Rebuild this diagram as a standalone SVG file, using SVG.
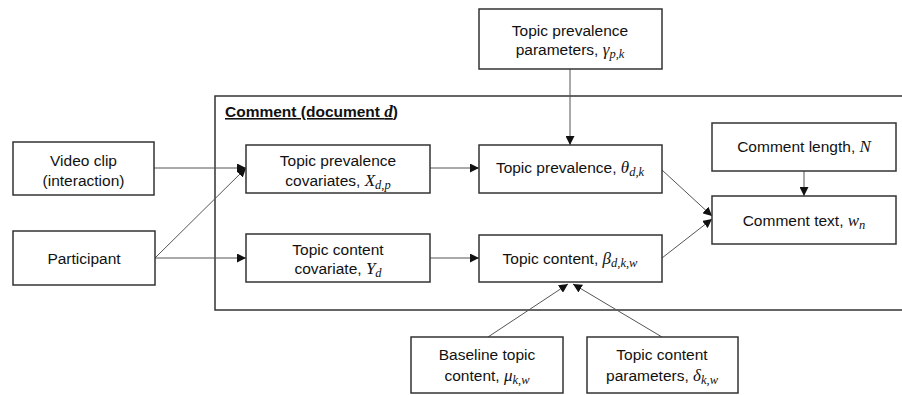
<svg xmlns="http://www.w3.org/2000/svg" width="902" height="395" viewBox="0 0 902 395">
<defs>
<style>
.box{fill:#fff;stroke:#333;stroke-width:1.5}
.frame{fill:none;stroke:#333;stroke-width:1.5}
.t{font-family:"Liberation Sans",Arial,sans-serif;font-size:15.5px;fill:#111;text-anchor:middle}
.m{font-family:"Liberation Serif","DejaVu Serif",serif;font-style:italic;font-size:17px}
.s{font-size:12.5px}
.c{stroke:#555;stroke-width:1;fill:none;marker-end:url(#ah)}
.title{font-family:"Liberation Sans",Arial,sans-serif;font-size:15.5px;font-weight:bold;fill:#111;text-decoration:underline}
</style>
<marker id="ah" viewBox="0 0 10 10" refX="10" refY="5" markerWidth="9" markerHeight="9" markerUnits="userSpaceOnUse" orient="auto">
<path d="M0,0 L10,5 L0,10 z" fill="#111"/>
</marker>
</defs>
<rect width="902" height="395" fill="#fff"/>
<g id="container">
<rect class="frame" x="215" y="96" width="700" height="214"/>
<text class="title" x="225" y="117">Comment (document <tspan class="m">d</tspan>)</text>
</g>
<g id="connectors">
<line class="c" x1="154" y1="168" x2="246" y2="168"/>
<line class="c" x1="155" y1="258" x2="246" y2="258"/>
<line class="c" x1="155" y1="258" x2="246" y2="168"/>
<line class="c" x1="430" y1="168" x2="479" y2="168"/>
<line class="c" x1="430" y1="258" x2="479" y2="258"/>
<line class="c" x1="570" y1="69" x2="570" y2="145"/>
<line class="c" x1="804" y1="171" x2="804" y2="196"/>
<line class="c" x1="662" y1="170" x2="712" y2="216"/>
<line class="c" x1="662" y1="258" x2="712" y2="219"/>
<line class="c" x1="488" y1="337" x2="568" y2="284"/>
<line class="c" x1="662" y1="337" x2="573" y2="284"/>
</g>
<g id="video">
<rect class="box" x="13" y="142" width="141" height="53"/>
<text class="t" x="83.5" y="166">Video clip</text>
<text class="t" x="83.5" y="186">(interaction)</text>
</g>
<g id="participant">
<rect class="box" x="13" y="231" width="142" height="54"/>
<text class="t" x="84" y="264">Participant</text>
</g>
<g id="prevcov">
<rect class="box" x="246" y="145" width="184" height="48"/>
<text class="t" x="338" y="165.5">Topic prevalence</text>
<text class="t" x="338" y="185.5">covariates, <tspan class="m">X</tspan><tspan class="m s" dy="3">d,p</tspan></text>
</g>
<g id="contcov">
<rect class="box" x="246" y="234" width="184" height="48"/>
<text class="t" x="338" y="255">Topic content</text>
<text class="t" x="338" y="274">covariate, <tspan class="m">Y</tspan><tspan class="m s" dy="3">d</tspan></text>
</g>
<g id="prevparams">
<rect class="box" x="479" y="9" width="183" height="60"/>
<text class="t" x="570" y="36">Topic prevalence</text>
<text class="t" x="570" y="55">parameters, <tspan class="m">γ</tspan><tspan class="m s" dy="3">p,k</tspan></text>
</g>
<g id="prevalence">
<rect class="box" x="479" y="145" width="183" height="48"/>
<text class="t" x="570" y="173">Topic prevalence, <tspan class="m">θ</tspan><tspan class="m s" dy="3">d,k</tspan></text>
</g>
<g id="content">
<rect class="box" x="479" y="235" width="183" height="47"/>
<text class="t" x="570" y="264">Topic content, <tspan class="m">β</tspan><tspan class="m s" dy="3">d,k,w</tspan></text>
</g>
<g id="length">
<rect class="box" x="712" y="123" width="184" height="48"/>
<text class="t" x="804" y="152">Comment length, <tspan class="m">N</tspan></text>
</g>
<g id="text">
<rect class="box" x="712" y="196" width="184" height="48"/>
<text class="t" x="804" y="226">Comment text, <tspan class="m">w</tspan><tspan class="m s" dy="3">n</tspan></text>
</g>
<g id="baseline">
<rect class="box" x="411" y="337" width="152" height="56"/>
<text class="t" x="487" y="360">Baseline topic</text>
<text class="t" x="487" y="381">content, <tspan class="m">μ</tspan><tspan class="m s" dy="3">k,w</tspan></text>
</g>
<g id="contparams">
<rect class="box" x="587" y="337" width="151" height="56"/>
<text class="t" x="662" y="360">Topic content</text>
<text class="t" x="662" y="381">parameters, <tspan class="m">δ</tspan><tspan class="m s" dy="3">k,w</tspan></text>
</g>
</svg>
